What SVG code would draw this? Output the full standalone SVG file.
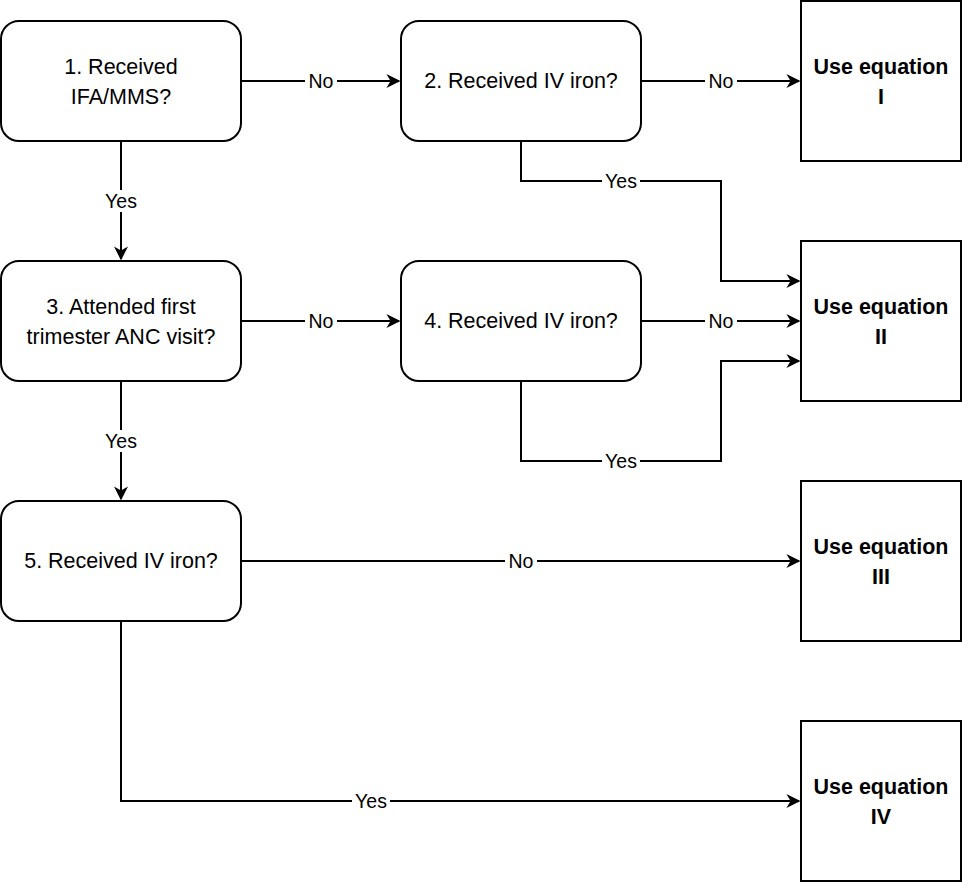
<svg xmlns="http://www.w3.org/2000/svg" width="962" height="882" viewBox="0 0 962 882">
<style>
.n{fill:#fff;stroke:#000;stroke-width:2}
.t{font-family:"Liberation Sans",Arial,sans-serif;font-size:21.5px;text-anchor:middle;fill:#000}
.b{font-weight:bold}
.e{fill:none;stroke:#000;stroke-width:2}
.l{font-family:"Liberation Sans",Arial,sans-serif;font-size:19.5px;text-anchor:middle;fill:#000}
.lb{fill:#fff}
</style>
<defs>
<marker id="a" viewBox="0 0 10 10" refX="9" refY="5" markerWidth="14" markerHeight="14" markerUnits="userSpaceOnUse" orient="auto">
<path d="M0,0 L10,5 L0,10 L3,5 Z" fill="#000"/>
</marker>
</defs>
<rect width="962" height="882" fill="#fff"/>
<g id="edges">
<path class="e" d="M241,81H399" marker-end="url(#a)"/>
<rect class="lb" x="305" y="70" width="32" height="22"/><text class="l" x="321" y="88">No</text>
<path class="e" d="M641,81H799" marker-end="url(#a)"/>
<rect class="lb" x="705" y="70" width="32" height="22"/><text class="l" x="721" y="88">No</text>
<path class="e" d="M521,141V181H721V281H799" marker-end="url(#a)"/>
<rect class="lb" x="602" y="170" width="38" height="22"/><text class="l" x="621" y="188">Yes</text>
<path class="e" d="M121,141V259" marker-end="url(#a)"/>
<rect class="lb" x="102" y="190" width="38" height="22"/><text class="l" x="121" y="208">Yes</text>
<path class="e" d="M241,321H399" marker-end="url(#a)"/>
<rect class="lb" x="305" y="310" width="32" height="22"/><text class="l" x="321" y="328">No</text>
<path class="e" d="M641,321H799" marker-end="url(#a)"/>
<rect class="lb" x="705" y="310" width="32" height="22"/><text class="l" x="721" y="328">No</text>
<path class="e" d="M521,381V461H721V361H799" marker-end="url(#a)"/>
<rect class="lb" x="602" y="450" width="38" height="22"/><text class="l" x="621" y="468">Yes</text>
<path class="e" d="M121,381V499" marker-end="url(#a)"/>
<rect class="lb" x="102" y="430" width="38" height="22"/><text class="l" x="121" y="448">Yes</text>
<path class="e" d="M241,561H799" marker-end="url(#a)"/>
<rect class="lb" x="505" y="550" width="32" height="22"/><text class="l" x="521" y="568">No</text>
<path class="e" d="M121,621V801H799" marker-end="url(#a)"/>
<rect class="lb" x="352" y="790" width="38" height="22"/><text class="l" x="371" y="808">Yes</text>
</g>
<g id="n1"><rect class="n" x="1" y="21" width="240" height="120" rx="18"/><text class="t" x="121" y="74">1. Received</text><text class="t" x="121" y="104">IFA/MMS?</text></g>
<g id="n2"><rect class="n" x="401" y="21" width="240" height="120" rx="18"/><text class="t" x="521" y="88">2. Received IV iron?</text></g>
<g id="eq1"><rect class="n" x="801" y="1" width="160" height="160"/><text class="t b" x="881" y="74">Use equation</text><text class="t b" x="881" y="104">I</text></g>
<g id="n3"><rect class="n" x="1" y="261" width="240" height="120" rx="18"/><text class="t" x="121" y="314">3. Attended first</text><text class="t" x="121" y="344">trimester ANC visit?</text></g>
<g id="n4"><rect class="n" x="401" y="261" width="240" height="120" rx="18"/><text class="t" x="521" y="328">4. Received IV iron?</text></g>
<g id="eq2"><rect class="n" x="801" y="241" width="160" height="160"/><text class="t b" x="881" y="314">Use equation</text><text class="t b" x="881" y="344">II</text></g>
<g id="n5"><rect class="n" x="1" y="501" width="240" height="120" rx="18"/><text class="t" x="121" y="568">5. Received IV iron?</text></g>
<g id="eq3"><rect class="n" x="801" y="481" width="160" height="160"/><text class="t b" x="881" y="554">Use equation</text><text class="t b" x="881" y="584">III</text></g>
<g id="eq4"><rect class="n" x="801" y="721" width="160" height="160"/><text class="t b" x="881" y="794">Use equation</text><text class="t b" x="881" y="824">IV</text></g>
</svg>
